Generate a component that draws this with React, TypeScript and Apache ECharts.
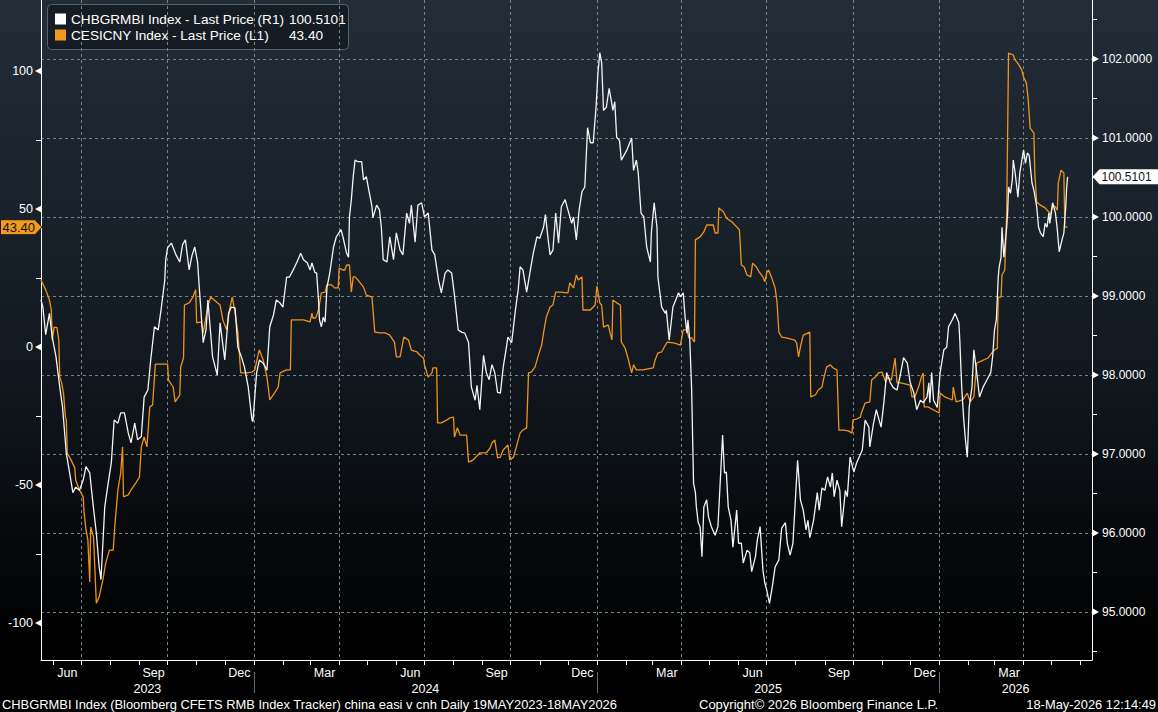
import React, { useEffect, useRef } from "react";
import * as echarts from "echarts";

// ---------- data (day offset from 19-May-2023, value) ----------
const DAY = 86400000;
const START = Date.UTC(2023, 4, 19);
const AXIS_END_DAY = 1121;

// CHBGRMBI Index (right axis)
const chbgrmbi: [number, number][] = [
  [0, 98.95], [2, 98.86], [5, 98.51], [9, 98.78], [12, 98.48], [16, 98.23], [20, 97.85], [23, 97.59], [27, 97.01], [30, 96.8],
  [34, 96.51], [37, 96.58], [41, 96.54], [45, 96.67], [48, 96.84], [52, 96.76], [55, 96.42], [59, 96.0], [62, 95.57], [64, 95.41],
  [68, 96.33], [71, 96.58], [75, 96.89], [78, 97.43], [82, 97.39], [85, 97.52], [89, 97.52], [93, 97.27], [96, 97.14], [100, 97.39],
  [103, 97.18], [107, 97.22], [110, 97.72], [114, 97.81], [117, 98.19], [121, 98.61], [125, 98.57], [128, 98.82], [132, 99.2], [133, 99.46],
  [135, 99.61], [139, 99.67], [144, 99.52], [148, 99.43], [151, 99.65], [154, 99.71], [158, 99.33], [161, 99.51], [164, 99.62], [167, 99.43],
  [169, 99.08], [173, 98.41], [176, 98.57], [178, 98.95], [183, 98.23], [188, 98.0], [191, 98.66], [196, 98.19], [200, 98.78], [203, 98.86],
  [207, 98.85], [210, 98.35], [214, 98.22], [217, 98.1], [221, 97.85], [225, 97.43], [226, 97.41], [230, 98.03], [233, 98.19], [237, 98.15],
  [241, 98.06], [244, 98.61], [248, 98.76], [251, 98.95], [255, 98.91], [258, 98.86], [262, 99.24], [265, 99.24], [269, 99.33], [273, 99.43],
  [277, 99.54], [280, 99.46], [284, 99.42], [287, 99.33], [289, 99.42], [292, 99.3], [294, 99.29], [296, 98.95], [297, 98.7], [299, 98.61],
  [301, 98.73], [303, 98.67], [305, 99.11], [308, 99.29], [312, 99.62], [315, 99.75], [320, 99.84], [322, 99.75], [326, 99.54], [328, 99.49],
  [329, 100.0], [331, 100.22], [333, 100.51], [335, 100.72], [338, 100.7], [342, 100.7], [344, 100.47], [347, 100.51], [349, 100.38], [353, 100.13],
  [354, 99.99], [358, 100.15], [361, 100.09], [363, 99.87], [365, 99.46], [369, 99.43], [372, 99.75], [376, 99.46], [379, 99.8], [383, 99.58],
  [386, 99.52], [390, 100.05], [393, 99.92], [395, 100.15], [399, 99.68], [402, 100.15], [406, 100.18], [409, 100.0], [413, 100.05], [417, 99.58],
  [420, 99.52], [424, 99.2], [427, 99.04], [431, 99.29], [434, 99.33], [438, 99.29], [441, 99.01], [445, 98.57], [449, 98.54], [452, 98.53],
  [456, 98.41], [459, 97.85], [463, 97.68], [465, 97.87], [468, 97.56], [472, 98.25], [475, 98.03], [478, 97.94], [481, 98.13], [484, 98.03],
  [487, 97.78], [490, 97.77], [493, 98.1], [496, 98.32], [498, 98.48], [502, 98.41], [506, 98.82], [509, 99.08], [511, 99.37], [514, 99.33],
  [518, 99.05], [522, 99.33], [525, 99.54], [529, 99.75], [532, 99.73], [536, 99.87], [538, 100.03], [541, 99.71], [543, 99.52], [546, 99.58],
  [549, 100.05], [552, 99.67], [555, 100.13], [559, 100.22], [562, 100.09], [566, 99.92], [568, 100.0], [571, 99.71], [574, 100.09], [577, 100.32],
  [580, 100.38], [583, 101.13], [586, 100.94], [589, 100.94], [592, 101.39], [594, 101.82], [596, 102.08], [598, 101.95], [600, 101.35], [603, 101.39],
  [606, 101.63], [610, 101.35], [612, 101.46], [614, 101.01], [617, 100.97], [619, 100.72], [625, 100.85], [630, 101.0], [632, 100.59], [635, 100.72],
  [637, 100.56], [640, 100.05], [643, 100.0], [646, 99.62], [650, 99.43], [651, 99.8], [654, 100.18], [657, 99.87], [658, 99.24], [662, 98.86],
  [666, 98.78], [667, 98.82], [670, 98.44], [674, 98.86], [677, 98.95], [680, 99.04], [682, 98.99], [685, 99.04], [687, 98.73], [689, 98.53],
  [690, 98.7], [692, 98.44], [694, 97.81], [696, 96.63], [698, 96.51], [699, 96.33], [701, 96.13], [703, 96.08], [705, 95.7], [707, 96.33],
  [710, 96.42], [712, 96.2], [715, 96.08], [719, 95.97], [722, 96.08], [724, 96.54], [727, 97.24], [729, 96.76], [731, 96.77], [733, 96.33],
  [736, 96.16], [738, 95.82], [742, 96.29], [744, 95.87], [747, 95.87], [749, 95.62], [753, 95.78], [756, 95.75], [758, 95.51], [762, 95.7],
  [764, 95.91], [767, 96.08], [770, 95.53], [772, 95.37], [774, 95.28], [777, 95.11], [780, 95.32], [783, 95.57], [787, 95.66], [790, 96.06],
  [794, 96.13], [796, 95.87], [799, 95.72], [802, 95.87], [804, 96.29], [807, 96.92], [810, 96.42], [813, 96.29], [816, 96.04], [818, 96.16],
  [820, 95.94], [824, 96.16], [828, 96.51], [830, 96.29], [833, 96.57], [836, 96.54], [839, 96.71], [842, 96.58], [844, 96.76], [846, 96.46],
  [849, 96.67], [852, 96.54], [854, 96.08], [858, 96.54], [860, 96.46], [863, 96.96], [867, 96.77], [870, 96.89], [876, 97.05], [879, 97.43],
  [883, 97.34], [884, 97.09], [888, 97.39], [891, 97.56], [893, 97.47], [896, 97.34], [899, 97.65], [902, 98.03], [906, 97.9], [909, 97.84],
  [913, 97.81], [916, 97.97], [920, 98.22], [924, 98.15], [927, 97.91], [931, 97.77], [934, 97.56], [938, 97.68], [941, 97.65], [945, 97.72],
  [947, 97.9], [948, 97.65], [950, 98.03], [952, 97.68], [956, 97.59], [959, 98.03], [963, 98.32], [966, 98.35], [968, 98.61], [972, 98.7],
  [975, 98.78], [979, 98.66], [980, 98.44], [982, 97.85], [984, 97.47], [986, 97.18], [988, 96.96], [990, 97.59], [993, 97.85], [995, 98.32],
  [998, 98.03], [1001, 97.72], [1005, 97.85], [1009, 97.94], [1013, 98.03], [1015, 98.23], [1017, 98.57], [1019, 98.7], [1021, 99.24], [1022, 99.37],
  [1024, 99.49], [1025, 99.87], [1027, 99.49], [1030, 99.87], [1031, 100.05], [1032, 100.38], [1034, 100.3], [1036, 100.47], [1037, 100.72], [1039, 100.56],
  [1042, 100.25], [1044, 100.56], [1048, 100.85], [1050, 100.68], [1052, 100.81], [1054, 100.78], [1057, 100.43], [1059, 100.34], [1062, 100.13], [1064, 99.87],
  [1066, 99.8], [1069, 99.75], [1071, 99.92], [1073, 99.87], [1075, 100.05], [1076, 99.92], [1079, 100.18], [1082, 100.05], [1084, 99.84], [1086, 99.56],
  [1089, 99.71], [1091, 99.8], [1093, 100.13], [1094, 100.38], [1095, 100.5101],
];

// CESICNY Index (left axis)
const cesicny: [number, number][] = [
  [0, 24.3], [5, 20.7], [9, 17.0], [11, 13.4], [12, 2.5], [14, 7.2], [17, 7.0], [19, 2.5], [20, -10.9], [22, -13.0],
  [24, -16.7], [26, -25.4], [27, -26.4], [28, -38.4], [32, -40.9], [36, -43.8], [37, -48.2], [41, -51.8], [45, -54.3], [46, -60.1],
  [48, -66.3], [50, -69.9], [52, -85.1], [53, -65.2], [56, -68.8], [59, -92.8], [62, -90.6], [66, -84.4], [69, -78.3], [73, -73.6],
  [77, -73.6], [79, -63.8], [82, -51.8], [85, -45.7], [87, -36.2], [88, -54.3], [93, -53.6], [96, -51.8], [101, -49.3], [105, -47.1],
  [107, -36.2], [110, -32.6], [113, -36.2], [116, -21.7], [119, -21.0], [122, -6.2], [135, -6.2], [136, -12.0], [141, -14.5], [143, -19.9],
  [148, -17.4], [149, -7.2], [152, -4.0], [153, 15.2], [158, 16.0], [162, 18.1], [165, 20.7], [166, 8.7], [171, 9.1], [173, 5.1],
  [176, 10.9], [179, 16.0], [181, 18.1], [191, 15.2], [194, 9.8], [198, 6.2], [201, 13.4], [204, 18.1], [207, 12.3], [210, 5.1],
  [213, -9.4], [219, -9.4], [225, -9.1], [228, -8.3], [232, -2.2], [233, -1.1], [237, -4.7], [241, -10.9], [244, -19.2], [249, -16.7],
  [253, -14.5], [255, -9.4], [262, -8.3], [266, -8.3], [267, 9.8], [280, 9.8], [287, 9.1], [289, 12.3], [290, 10.5], [293, 10.5],
  [296, 13.4], [299, 19.6], [303, 19.9], [305, 22.5], [310, 22.5], [313, 21.4], [317, 21.4], [318, 28.6], [322, 27.9], [324, 27.9],
  [326, 29.7], [329, 29.7], [331, 19.9], [333, 25.4], [335, 25.4], [338, 24.3], [344, 21.7], [347, 18.8], [353, 18.1], [356, 5.4],
  [361, 5.1], [367, 5.1], [372, 4.3], [377, 1.8], [379, -3.6], [383, -3.6], [385, 0.0], [387, 3.6], [392, 2.5], [395, -1.1],
  [401, -1.8], [404, -2.9], [408, -4.0], [409, -6.5], [413, -10.9], [417, -9.4], [418, -7.6], [422, -7.6], [423, -27.5], [427, -27.5],
  [433, -26.4], [436, -25.7], [440, -25.4], [441, -32.6], [444, -29.3], [447, -31.9], [454, -31.9], [456, -41.7], [461, -40.9], [468, -38.4],
  [475, -38.4], [479, -36.6], [481, -34.8], [484, -33.7], [487, -40.2], [490, -39.9], [493, -37.3], [498, -35.5], [500, -40.9], [504, -39.9],
  [507, -36.2], [511, -31.2], [514, -30.1], [518, -29.3], [520, -9.4], [523, -9.1], [527, -7.2], [530, -3.6], [534, 0.7], [536, 5.1],
  [539, 10.9], [543, 14.5], [546, 15.2], [549, 19.9], [554, 19.9], [562, 19.6], [564, 23.2], [568, 21.4], [571, 26.1], [573, 24.3],
  [577, 25.4], [578, 13.4], [586, 13.4], [591, 15.2], [593, 22.1], [596, 16.0], [598, 15.2], [600, 7.2], [605, 8.0], [607, 5.1],
  [609, 2.5], [610, 17.0], [614, 16.0], [618, 15.2], [619, 1.8], [623, -0.4], [626, -4.0], [630, -9.4], [632, -6.5], [635, -8.3],
  [642, -8.3], [653, -7.6], [655, -4.7], [658, -2.2], [662, -1.8], [666, 0.7], [668, 1.8], [676, 1.4], [682, 0.7], [685, 6.2],
  [689, 6.2], [691, 3.3], [694, 3.3], [697, 1.8], [698, 38.8], [703, 39.9], [707, 41.7], [710, 44.2], [717, 44.2], [719, 41.3],
  [722, 41.3], [723, 50.4], [728, 48.9], [731, 46.7], [737, 45.3], [742, 43.5], [745, 42.4], [747, 29.7], [750, 29.0], [753, 26.1],
  [757, 25.4], [759, 30.4], [763, 29.0], [766, 27.2], [770, 25.4], [772, 23.6], [774, 26.8], [776, 27.9], [779, 25.4], [783, 21.4],
  [785, 16.3], [787, 5.4], [790, 3.6], [795, 3.3], [804, 2.5], [806, 1.4], [808, -3.6], [810, 0.0], [813, 4.3], [820, 5.4],
  [821, -18.1], [826, -17.4], [829, -15.6], [833, -14.5], [835, -11.2], [838, -7.2], [842, -6.5], [845, -7.6], [849, -8.3], [851, -30.1],
  [856, -30.1], [861, -30.4], [865, -31.2], [866, -26.4], [870, -26.1], [874, -25.4], [875, -23.9], [879, -20.3], [884, -19.9], [886, -12.0],
  [890, -10.9], [893, -9.4], [897, -9.1], [901, -12.7], [903, -10.9], [907, -12.0], [911, -4.0], [913, -13.0], [917, -13.0], [927, -13.8],
  [929, -18.1], [932, -18.1], [936, -14.5], [939, -10.9], [941, -9.4], [942, -21.7], [946, -21.7], [958, -23.9], [959, -16.7], [964, -18.1],
  [972, -19.2], [973, -14.5], [976, -19.9], [983, -19.2], [988, -16.7], [991, -19.9], [995, -18.1], [998, -5.8], [1001, -5.4], [1010, -4.0],
  [1014, -2.2], [1017, -1.1], [1020, -0.4], [1021, 18.1], [1024, 18.1], [1025, 26.1], [1028, 27.9], [1030, 48.6], [1032, 106.5], [1037, 105.8],
  [1039, 104.0], [1043, 102.2], [1046, 100.4], [1048, 97.8], [1051, 95.7], [1053, 89.5], [1055, 79.3], [1059, 77.5], [1060, 63.0], [1062, 52.5],
  [1066, 51.4], [1071, 50.4], [1075, 48.9], [1077, 47.8], [1079, 51.4], [1082, 50.7], [1084, 49.6], [1085, 59.4], [1088, 64.1], [1091, 63.0],
  [1092, 43.5], [1095, 43.4],
];

// ---------- axes / ticks ----------
const LEFT_MIN = -113.41;
const LEFT_MAX = 125.72;
const RIGHT_MIN = 94.392;
const RIGHT_MAX = 102.747;
const leftTickLabels = [-100, -50, 0, 50, 100];
const leftMinorTicks = [-75, -25, 25, 75];
const rightTickLabels = [95, 96, 97, 98, 99, 100, 101, 102];
const rightMinorTicks = [94.5, 95.5, 96.5, 97.5, 98.5, 99.5, 100.5, 101.5, 102.5];
const labelMonths = ["2023-06", "2023-09", "2023-12", "2024-03", "2024-06", "2024-09", "2024-12", "2025-03", "2025-06", "2025-09", "2025-12", "2026-03"];
const yearLabels = [2023, 2024, 2025, 2026];
const MONTH_NAMES = ["Jan", "Feb", "Mar", "Apr", "May", "Jun", "Jul", "Aug", "Sep", "Oct", "Nov", "Dec"];

const legendRows = [
  { name: "CHBGRMBI Index - Last Price (R1)", value: "100.5101", color: "#ffffff" },
  { name: "CESICNY Index - Last Price (L1)", value: "43.40", color: "#f39a1e" },
];
const footerLeft = "CHBGRMBI Index (Bloomberg CFETS RMB Index Tracker) china easi v cnh Daily 19MAY2023-18MAY2026";
const footerMid = "Copyright\u00A9 2026 Bloomberg Finance L.P.";
const footerRight = "18-May-2026 12:14:49";

const ORANGE = "#f0931a";
const WHITE = "#f4f4f4";
const FONT = '"Liberation Sans", Arial, Helvetica, sans-serif';
const GRID_COLOR = "#7a8187";

export default function App() {
  const ref = useRef<HTMLDivElement>(null);

  useEffect(() => {
    if (!ref.current) return;
    const chart = echarts.init(ref.current, undefined, { renderer: "svg" });

    const ts = (d: number) => START + d * DAY;
    const AXIS_MIN = START;
    const AXIS_MAX = ts(AXIS_END_DAY);

    const monthStarts: number[] = [];
    {
      let y = 2023, m = 5;
      while (Date.UTC(y, m, 1) <= AXIS_MAX) {
        monthStarts.push(Date.UTC(y, m, 1));
        m++;
        if (m > 11) { m = 0; y++; }
      }
    }
    const quarterStarts = monthStarts.filter((t) => new Date(t).getUTCMonth() % 3 === 0);
    const yearStarts = monthStarts.filter((t) => new Date(t).getUTCMonth() === 0);
    const monthMids = labelMonths.map((s) => {
      const [yy, mm] = s.split("-").map(Number);
      return (Date.UTC(yy, mm - 1, 1) + Date.UTC(yy, mm, 1)) / 2;
    });
    const yearMids = yearLabels.map((y) => {
      const a = Math.max(AXIS_MIN, Date.UTC(y, 0, 1));
      const b = Math.min(AXIS_MAX, Date.UTC(y + 1, 0, 1));
      return (a + b) / 2;
    });

    const whiteData = chbgrmbi.map(([d, v]) => [ts(d), v]);
    const orangeData = cesicny.map(([d, v]) => [ts(d), v]);
    const lastWhite = whiteData[whiteData.length - 1];
    const lastOrange = orangeData[orangeData.length - 1];

    const baseX = {
      type: "value" as const,
      min: AXIS_MIN,
      max: AXIS_MAX,
      scale: true,
      position: "bottom" as const,
      axisLine: { show: false, onZero: false },
      axisTick: { show: false },
      axisLabel: { show: false },
      splitLine: { show: false },
      axisPointer: { show: false },
    };

    const axisFont = { color: "#ffffff", fontSize: 12.5, fontFamily: FONT };

    const option: any = {
      animation: false,
      backgroundColor: "#000",
      grid: { left: 41, right: 66, top: 0, bottom: 52, containLabel: false, outerBoundsMode: "none" },
      xAxis: [
        {
          ...baseX,
          axisLine: { show: true, onZero: false, lineStyle: { color: "#ffffff", width: 1 } },
          axisTick: { show: true, customValues: monthStarts, length: 5, lineStyle: { color: "#ffffff", width: 1 } },
        },
        {
          ...baseX,
          axisTick: { show: false, customValues: quarterStarts },
          splitLine: { show: true, lineStyle: { color: GRID_COLOR, width: 1, type: [3, 3] } },
        },
        {
          ...baseX,
          axisLabel: { show: true, customValues: monthMids, margin: 6, ...axisFont, formatter: (v: number) => MONTH_NAMES[new Date(v).getUTCMonth()] },
        },
        {
          ...baseX,
          axisLabel: { show: true, customValues: yearMids, margin: 22, ...axisFont, formatter: (v: number) => String(new Date(v).getUTCFullYear()) },
        },
        {
          ...baseX,
          offset: 12,
          axisTick: { show: true, customValues: yearStarts, length: 21, lineStyle: { color: "#6a6a6a", width: 1 } },
        },
      ],
      yAxis: [
        {
          type: "value",
          position: "left",
          min: LEFT_MIN,
          max: LEFT_MAX,
          axisLine: { show: true, onZero: false, lineStyle: { color: "#ffffff", width: 1 } },
          axisTick: { show: true, customValues: leftMinorTicks, length: 5, lineStyle: { color: "#ffffff" } },
          axisLabel: { show: true, customValues: leftTickLabels, margin: 8, color: "#ffffff", fontSize: 12.5, fontFamily: FONT },
          splitLine: { show: false },
        },
        {
          type: "value",
          position: "right",
          min: RIGHT_MIN,
          max: RIGHT_MAX,
          axisLine: { show: true, onZero: false, lineStyle: { color: "#ffffff", width: 1 } },
          axisTick: { show: true, customValues: rightMinorTicks, length: 5, lineStyle: { color: "#ffffff" } },
          axisLabel: { show: true, customValues: rightTickLabels, margin: 10, color: "#ffffff", fontSize: 12, fontFamily: FONT, formatter: (v: number) => v.toFixed(4) },
          splitLine: { show: false },
        },
        {
          type: "value",
          position: "right",
          min: RIGHT_MIN,
          max: RIGHT_MAX,
          axisLine: { show: false, onZero: false },
          axisTick: { show: false, customValues: rightTickLabels },
          axisLabel: { show: false },
          splitLine: { show: true, lineStyle: { color: GRID_COLOR, width: 1, type: [3, 3] } },
        },
      ],
      graphic: [
        {
          type: "rect",
          z: -100,
          silent: true,
          shape: { x: 0, y: 0, width: 1158, height: 712 },
          style: {
            fill: new echarts.graphic.LinearGradient(0, 0, 0, 1, [
              { offset: 0, color: "#232d38" },
              { offset: 0.5, color: "#121920" },
              { offset: 0.9, color: "#000000" },
              { offset: 1, color: "#000000" },
            ]),
          },
        },
        {
          type: "group",
          z: 100,
          children: [
            { type: "rect", shape: { x: 47.5, y: 4.5, width: 301, height: 45, r: 4 }, style: { fill: "rgba(22,28,34,0.96)", stroke: "#59616a", lineWidth: 1 } },
            ...legendRows.flatMap((row, i) => [
              { type: "rect", shape: { x: 55, y: 13.5 + i * 16, width: 11, height: 11 }, style: { fill: row.color } },
              { type: "text", style: { text: row.name, x: 71, y: 19.5 + i * 16, fill: "#ffffff", font: `13.6px ${FONT}`, verticalAlign: "middle" } },
              { type: "text", style: { text: row.value, x: 289, y: 19.5 + i * 16, fill: "#ffffff", font: `13.6px ${FONT}`, verticalAlign: "middle" } },
            ]),
          ],
        },
        { type: "text", z: 100, style: { text: footerLeft, x: 2, y: 704, fill: "#ffffff", font: `12.9px ${FONT}`, verticalAlign: "middle" } },
        { type: "text", z: 100, style: { text: footerMid, x: 699, y: 704, fill: "#ffffff", font: `13px ${FONT}`, verticalAlign: "middle" } },
        { type: "text", z: 100, style: { text: footerRight, x: 1156, y: 704, fill: "#ffffff", font: `12.9px ${FONT}`, align: "right", verticalAlign: "middle" } },
      ],
      series: [
        {
          type: "line",
          name: "CESICNY",
          xAxisIndex: 0,
          yAxisIndex: 0,
          data: orangeData,
          showSymbol: false,
          symbol: "none",
          silent: true,
          z: 3,
          lineStyle: { color: ORANGE, width: 1.3 },
          itemStyle: { color: ORANGE },
        },
        {
          type: "line",
          name: "CHBGRMBI",
          xAxisIndex: 0,
          yAxisIndex: 1,
          data: whiteData,
          showSymbol: false,
          symbol: "none",
          silent: true,
          z: 4,
          lineStyle: { color: WHITE, width: 1.3 },
          itemStyle: { color: WHITE },
        },
        {
          type: "custom",
          xAxisIndex: 0,
          yAxisIndex: 0,
          silent: true,
          clip: false,
          z: 5,
          data: leftTickLabels.map((v) => [AXIS_MIN, v]),
          renderItem: (params: any, api: any) => {
            const p = api.coord([api.value(0), api.value(1)]);
            const x = params.coordSys.x + 0.5;
            const y = p[1];
            return { type: "polygon", shape: { points: [[x, y - 3.6], [x, y + 3.6], [x - 6.5, y]] }, style: { fill: "#ffffff" } };
          },
        },
        {
          type: "custom",
          xAxisIndex: 0,
          yAxisIndex: 1,
          silent: true,
          clip: false,
          z: 5,
          data: rightTickLabels.map((v) => [AXIS_MIN, v]),
          renderItem: (params: any, api: any) => {
            const p = api.coord([api.value(0), api.value(1)]);
            const x = params.coordSys.x + params.coordSys.width + 0.5;
            const y = p[1];
            return { type: "polygon", shape: { points: [[x, y - 3.6], [x, y + 3.6], [x + 6.5, y]] }, style: { fill: "#ffffff" } };
          },
        },
        {
          type: "custom",
          xAxisIndex: 0,
          yAxisIndex: 0,
          silent: true,
          clip: false,
          z: 10,
          data: [lastOrange],
          renderItem: (params: any, api: any) => {
            const v = api.value(1);
            const p = api.coord([api.value(0), v]);
            const x = params.coordSys.x;
            const y = p[1];
            return {
              type: "group",
              children: [
                { type: "polygon", shape: { points: [[x + 1, y], [x - 6, y - 7.5], [0.5, y - 7.5], [0.5, y + 7.5], [x - 6, y + 7.5]] }, style: { fill: "#f39a1e", stroke: "#1a1a1a", lineWidth: 1 } },
                { type: "text", style: { text: v.toFixed(2), x: 2.5, y: y + 0.5, fill: "#111111", font: `13px ${FONT}`, verticalAlign: "middle" } },
              ],
            };
          },
        },
        {
          type: "custom",
          xAxisIndex: 0,
          yAxisIndex: 1,
          silent: true,
          clip: false,
          z: 10,
          data: [lastWhite],
          renderItem: (params: any, api: any) => {
            const v = api.value(1);
            const p = api.coord([api.value(0), v]);
            const x = params.coordSys.x + params.coordSys.width + 0.5;
            const y = p[1];
            return {
              type: "group",
              children: [
                { type: "polygon", shape: { points: [[x, y], [x + 7, y - 7.5], [1158, y - 7.5], [1158, y + 7.5], [x + 7, y + 7.5]] }, style: { fill: "#ffffff" } },
                { type: "text", style: { text: v.toFixed(4), x: x + 9, y: y + 0.5, fill: "#111111", font: `12px ${FONT}`, verticalAlign: "middle" } },
              ],
            };
          },
        },
      ],
    };

    chart.setOption(option);
    return () => chart.dispose();
  }, []);

  return <div ref={ref} style={{ position: "fixed", left: 0, top: 0, width: 1158, height: 712 }} />;
}
